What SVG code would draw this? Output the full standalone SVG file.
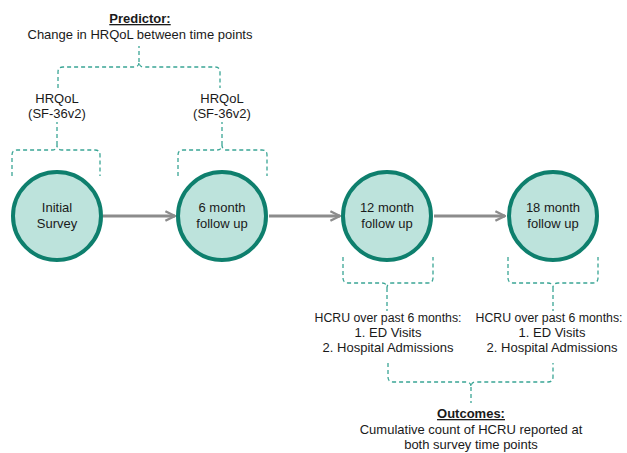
<svg xmlns="http://www.w3.org/2000/svg" width="627" height="453" viewBox="0 0 627 453">
<defs>
<style>
text{font-family:"Liberation Sans",Arial,sans-serif;font-size:13px;fill:#1a1a1a;text-anchor:middle}
.b{font-weight:bold;text-decoration:underline}
.s{font-size:12.3px}
.node{fill:#bde3dc;stroke:#0e7f6d;stroke-width:4}
.brace{fill:none;stroke:#3aa595;stroke-width:1.3;stroke-dasharray:4 3}
.arrow{stroke:#8c8c8c;stroke-width:3;fill:none;marker-end:url(#ah)}
</style>
<marker id="ah" viewBox="0 0 10 10" refX="9" refY="5" markerWidth="4" markerHeight="4" orient="auto" markerUnits="strokeWidth">
<path d="M1,1 L9,5 L1,9" fill="none" stroke="#8c8c8c" stroke-width="2"/>
</marker>
</defs>
<g id="connectors">
<path class="arrow" d="M103,216 H175"/>
<path class="arrow" d="M269,216 H340"/>
<path class="arrow" d="M434,216 H505"/>
<path class="brace" d="M58,88 V72 Q58,67 63,67 H134 Q139,67 139,62 Q139,67 144,67 H215 Q220,67 220,72 V88 M139,62 V46"/>
<path class="brace" d="M12,176 V155 Q12,150 17,150 H52 Q57,150 57,145 Q57,150 62,150 H95 Q100,150 100,155 V176 M57,145 V122"/>
<path class="brace" d="M178,176 V155 Q178,150 183,150 H217 Q222,150 222,145 Q222,150 227,150 H262 Q267,150 267,155 V176 M222,145 V122"/>
<path class="brace" d="M343,257 V278 Q343,283 348,283 H382 Q387,283 387,288 Q387,283 392,283 H428 Q433,283 433,278 V257 M387,288 V311"/>
<path class="brace" d="M508,257 V278 Q508,283 513,283 H548 Q553,283 553,288 Q553,283 558,283 H593 Q598,283 598,278 V257 M553,288 V311"/>
<path class="brace" d="M388,363 V377 Q388,382 393,382 H466 Q471,382 471,387 Q471,382 476,382 H548 Q553,382 553,377 V363 M471,387 V403"/>
</g>
<g id="predictor">
<text class="b" x="140" y="23">Predictor:</text>
<text x="140" y="39">Change in HRQoL between time points</text>
</g>
<g id="hrqol1"><text x="57" y="103">HRQoL</text><text x="57" y="118">(SF-36v2)</text></g>
<g id="hrqol2"><text x="222" y="103">HRQoL</text><text x="222" y="118">(SF-36v2)</text></g>
<g id="initial"><circle class="node" cx="57" cy="216" r="44"/><text x="57" y="212">Initial</text><text x="57" y="228">Survey</text></g>
<g id="m6"><circle class="node" cx="222" cy="216" r="44"/><text x="222" y="212">6 month</text><text x="222" y="228">follow up</text></g>
<g id="m12"><circle class="node" cx="387" cy="216" r="44"/><text x="387" y="212">12 month</text><text x="387" y="228">follow up</text></g>
<g id="m18"><circle class="node" cx="553" cy="216" r="44"/><text x="553" y="212">18 month</text><text x="553" y="228">follow up</text></g>
<g id="hcru1"><text class="s" x="388" y="322">HCRU over past 6 months:</text><text x="388" y="337">1. ED Visits</text><text x="388" y="352">2. Hospital Admissions</text></g>
<g id="hcru2"><text class="s" x="549" y="322">HCRU over past 6 months:</text><text x="552" y="337">1. ED Visits</text><text x="552" y="352">2. Hospital Admissions</text></g>
<g id="outcomes">
<text class="b" x="471" y="418">Outcomes:</text>
<text x="471" y="434">Cumulative count of HCRU reported at</text>
<text x="471" y="449">both survey time points</text>
</g>
</svg>
